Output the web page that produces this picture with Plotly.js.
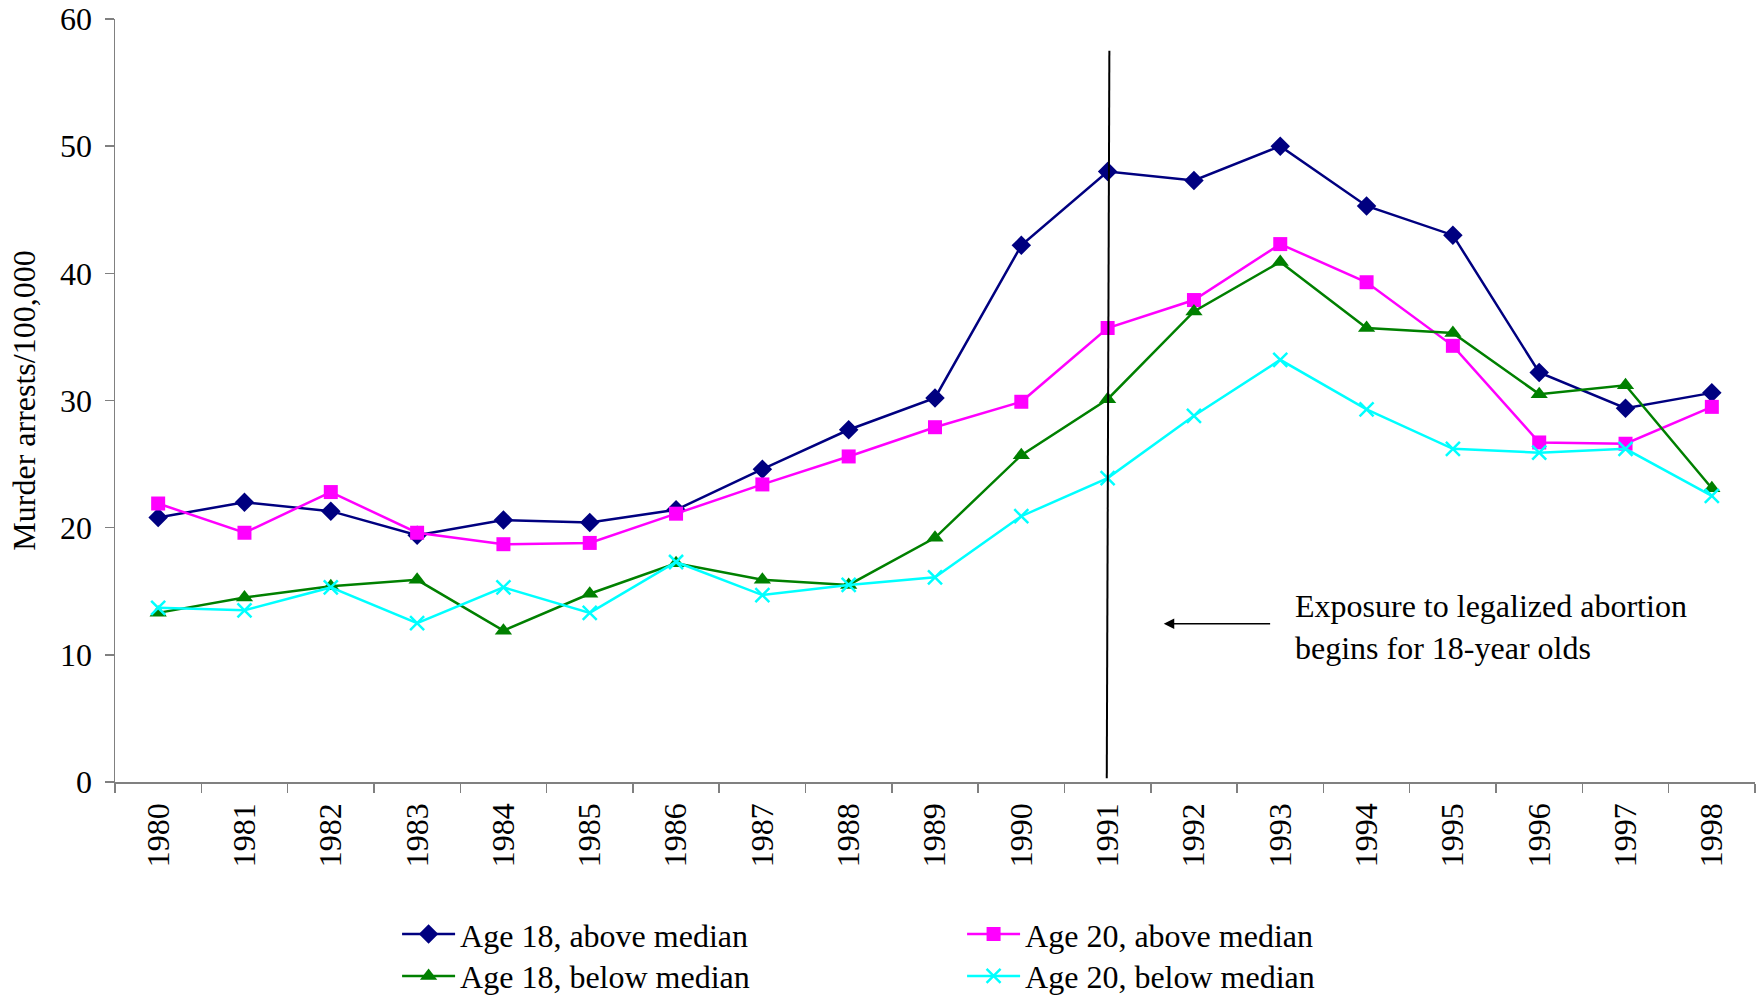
<!DOCTYPE html>
<html>
<head>
<meta charset="utf-8">
<script src="https://cdn.plot.ly/plotly-3.0.1.min.js"></script>
<style>html,body{margin:0;padding:0;background:#fff;}#chart{width:1762px;height:996px;}</style>
</head>
<body>
<div id="chart"></div>
<script>
const years = ['1980','1981','1982','1983','1984','1985','1986','1987','1988','1989','1990','1991','1992','1993','1994','1995','1996','1997','1998'];
const age18Above = [20.8,22.0,21.3,19.4,20.6,20.4,21.4,24.6,27.7,30.2,42.2,48.0,47.3,50.0,45.3,43.0,32.2,29.4,30.6];
const age20Above = [21.9,19.6,22.8,19.6,18.7,18.8,21.1,23.4,25.6,27.9,29.9,35.7,37.9,42.3,39.3,34.3,26.7,26.6,29.5];
const age18Below = [13.3,14.5,15.4,15.9,11.9,14.8,17.2,15.9,15.5,19.2,25.7,30.1,37.0,40.9,35.7,35.3,30.5,31.2,23.1];
const age20Below = [13.7,13.5,15.3,12.5,15.3,13.3,17.3,14.7,15.5,16.1,20.9,23.9,28.8,33.2,29.3,26.2,25.9,26.2,22.5];
const seriesNames = ['Age 18, above median','Age 20, above median','Age 18, below median','Age 20, below median'];
const annotationText = 'Exposure to legalized abortion<br>begins for 18-year olds';
const yTitle = 'Murder arrests/100,000';

const FONT = 'Liberation Serif, Times New Roman, serif';
const FS = 32;

const traces = [
  {x: years, y: age18Above, name: seriesNames[0], type: 'scatter', mode: 'lines+markers',
   line: {color: '#000080', width: 2.5}, marker: {symbol: 'diamond', size: 15, color: '#000080'}, legend: 'legend'},
  {x: years, y: age20Above, name: seriesNames[1], type: 'scatter', mode: 'lines+markers',
   line: {color: '#FF00FF', width: 2.5}, marker: {symbol: 'square', size: 14, color: '#FF00FF'}, legend: 'legend'},
  {x: years, y: age18Below, name: seriesNames[2], type: 'scatter', mode: 'lines+markers',
   line: {color: '#008000', width: 2.5}, marker: {symbol: 'triangle-up', size: 15, color: '#008000'}, legend: 'legend2'},
  {x: years, y: age20Below, name: seriesNames[3], type: 'scatter', mode: 'lines+markers',
   line: {color: '#00FFFF', width: 2.5}, marker: {symbol: 'x-thin-open', size: 14, color: '#00FFFF', line: {color: '#00FFFF', width: 2.5}}, legend: 'legend2'}
];

const legendCommon = {
  orientation: 'h', xanchor: 'left', yanchor: 'middle', yref: 'container',
  font: {family: FONT, size: FS, color: '#000'},
  entrywidth: 497, entrywidthmode: 'pixels',
  bgcolor: 'rgba(0,0,0,0)', borderwidth: 0, itemwidth: 53, tracegroupgap: 0
};

const layout = {
  width: 1762, height: 996,
  margin: {l: 115, r: 7, t: 19, b: 214, autoexpand: false},
  paper_bgcolor: '#fff', plot_bgcolor: '#fff',
  font: {family: FONT, size: FS, color: '#000'},
  showlegend: true,
  legend: Object.assign({}, legendCommon, {x: 0.172, y: 0.062}),
  legend2: Object.assign({}, legendCommon, {x: 0.172, y: 0.020}),
  xaxis: {
    type: 'category', range: [-0.5, 18.5], tickson: 'boundaries',
    ticks: 'outside', ticklen: 9, tickcolor: '#808080', tickwidth: 1.5,
    showline: true, linecolor: '#808080', linewidth: 1.5,
    showgrid: false, zeroline: false, tickangle: -90, ticklabelstandoff: 7,
    tickfont: {family: FONT, size: FS, color: '#000'}
  },
  yaxis: {
    range: [0, 60], dtick: 10, tick0: 0,
    ticks: 'outside', ticklen: 9, tickcolor: '#808080', tickwidth: 1.5,
    showline: true, linecolor: '#808080', linewidth: 1.5,
    showgrid: false, zeroline: false, ticklabelstandoff: 6,
    tickfont: {family: FONT, size: FS, color: '#000'},
    title: {text: yTitle, font: {family: FONT, size: FS, color: '#000'}, standoff: 15}
  },
  shapes: [
    {type: 'line', xref: 'x', yref: 'y', x0: 11.02, y0: 57.5, x1: 10.99, y1: 0.3,
     line: {color: '#000', width: 2}}
  ],
  annotations: [
    {xref: 'x', yref: 'y', x: 11.65, y: 12.45, axref: 'x', ayref: 'y', ax: 12.9, ay: 12.45,
     text: '', showarrow: true, arrowhead: 2, arrowsize: 1.4, arrowwidth: 1.5, arrowcolor: '#000', standoff: 0, startstandoff: 0},
    {xref: 'x', yref: 'y', x: 13.15, y: 12.2, xanchor: 'left', yanchor: 'middle', align: 'left',
     text: annotationText, showarrow: false, font: {family: FONT, size: FS, color: '#000'}}
  ]
};

Plotly.newPlot('chart', traces, layout, {displayModeBar: false, staticPlot: true});
</script>
</body>
</html>
